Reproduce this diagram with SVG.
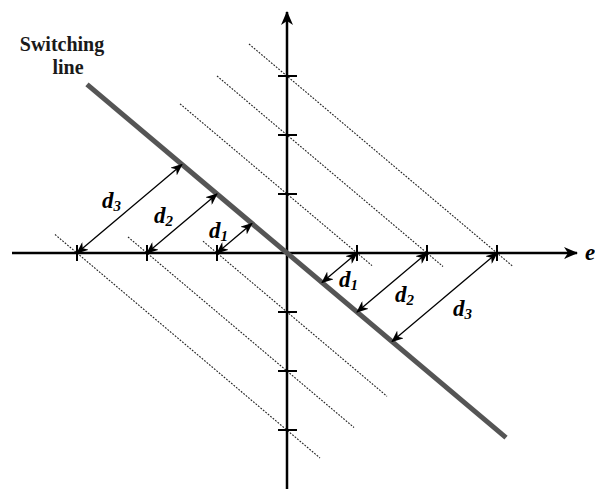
<svg xmlns="http://www.w3.org/2000/svg" width="595" height="489" viewBox="0 0 595 489">
<style>
.axis{stroke:#000;stroke-width:2.5;fill:none}
.tick{stroke:#000;stroke-width:2}
.dot{stroke:#222;stroke-width:1.1;stroke-dasharray:1.8 1.4;fill:none}
.sw{stroke:#555;stroke-width:5;stroke-linecap:butt}
.dim{stroke:#000;stroke-width:1.3;fill:none;marker-start:url(#ah);marker-end:url(#ah)}
.lbl{font-family:"Liberation Serif",serif;font-weight:bold;font-style:italic;font-size:23px;fill:#000}
.sub{font-size:15px}
.title{font-family:"Liberation Serif",serif;font-weight:bold;font-size:20px;fill:#1a1a1a}
</style>
<defs>
<marker id="ah" viewBox="0 0 12 10" refX="11" refY="5" markerWidth="12" markerHeight="10" markerUnits="userSpaceOnUse" orient="auto-start-reverse">
<path d="M0,0 L12,5 L0,10 L3.5,5 z" fill="#000"/>
</marker>
<marker id="axh" viewBox="0 0 14 12" refX="13" refY="6" markerWidth="14" markerHeight="12" markerUnits="userSpaceOnUse" orient="auto">
<path d="M0,0 L14,6 L0,12 L4,6 z" fill="#000"/>
</marker>
</defs>
<rect width="595" height="489" fill="#fff"/>
<g id="guides">
<line class="dot" x1="180" y1="103.8" x2="372" y2="265.6"/>
<line class="dot" x1="217" y1="76" x2="443" y2="266.5"/>
<line class="dot" x1="249" y1="44" x2="513" y2="266.5"/>
<line class="dot" x1="203" y1="241.2" x2="387" y2="396.3"/>
<line class="dot" x1="128" y1="237" x2="354" y2="427.5"/>
<line class="dot" x1="55" y1="234.5" x2="320" y2="458"/>
</g>
<g id="axes">
<line class="axis" x1="12" y1="253" x2="577" y2="253" marker-end="url(#axh)"/>
<line class="axis" x1="287" y1="489" x2="287" y2="12" marker-end="url(#axh)"/>
<g class="tick">
<line x1="278" y1="76" x2="297" y2="76"/>
<line x1="278" y1="135" x2="297" y2="135"/>
<line x1="278" y1="194" x2="297" y2="194"/>
<line x1="278" y1="312" x2="297" y2="312"/>
<line x1="278" y1="371" x2="297" y2="371"/>
<line x1="278" y1="430" x2="297" y2="430"/>
<line x1="77" y1="245" x2="77" y2="261"/>
<line x1="147" y1="245" x2="147" y2="261"/>
<line x1="217" y1="245" x2="217" y2="261"/>
<line x1="357" y1="245" x2="357" y2="261"/>
<line x1="427" y1="245" x2="427" y2="261"/>
<line x1="497" y1="245" x2="497" y2="261"/>
</g>
<text class="lbl" x="585" y="260">e</text>
</g>
<g id="switching-line">
<line class="sw" x1="87" y1="84.4" x2="506" y2="437.6"/>
<text class="title" x="62" y="51" text-anchor="middle">Switching</text>
<text class="title" x="68" y="74" text-anchor="middle">line</text>
</g>
<g id="connectors">
<line class="dim" x1="77" y1="253" x2="182" y2="164.5"/>
<line class="dim" x1="147" y1="253" x2="217" y2="194"/>
<line class="dim" x1="217" y1="253" x2="252" y2="223.5"/>
<line class="dim" x1="357" y1="253" x2="322" y2="282.5"/>
<line class="dim" x1="427" y1="253" x2="357" y2="312"/>
<line class="dim" x1="497" y1="253" x2="392" y2="341.5"/>
</g>
<g id="labels">
<text class="lbl" x="102" y="208">d<tspan class="sub" dy="3">3</tspan></text>
<text class="lbl" x="154" y="223">d<tspan class="sub" dy="3">2</tspan></text>
<text class="lbl" x="209" y="238">d<tspan class="sub" dy="3">1</tspan></text>
<text class="lbl" x="339" y="287">d<tspan class="sub" dy="3">1</tspan></text>
<text class="lbl" x="395" y="302">d<tspan class="sub" dy="3">2</tspan></text>
<text class="lbl" x="453" y="316">d<tspan class="sub" dy="3">3</tspan></text>
</g>
</svg>
